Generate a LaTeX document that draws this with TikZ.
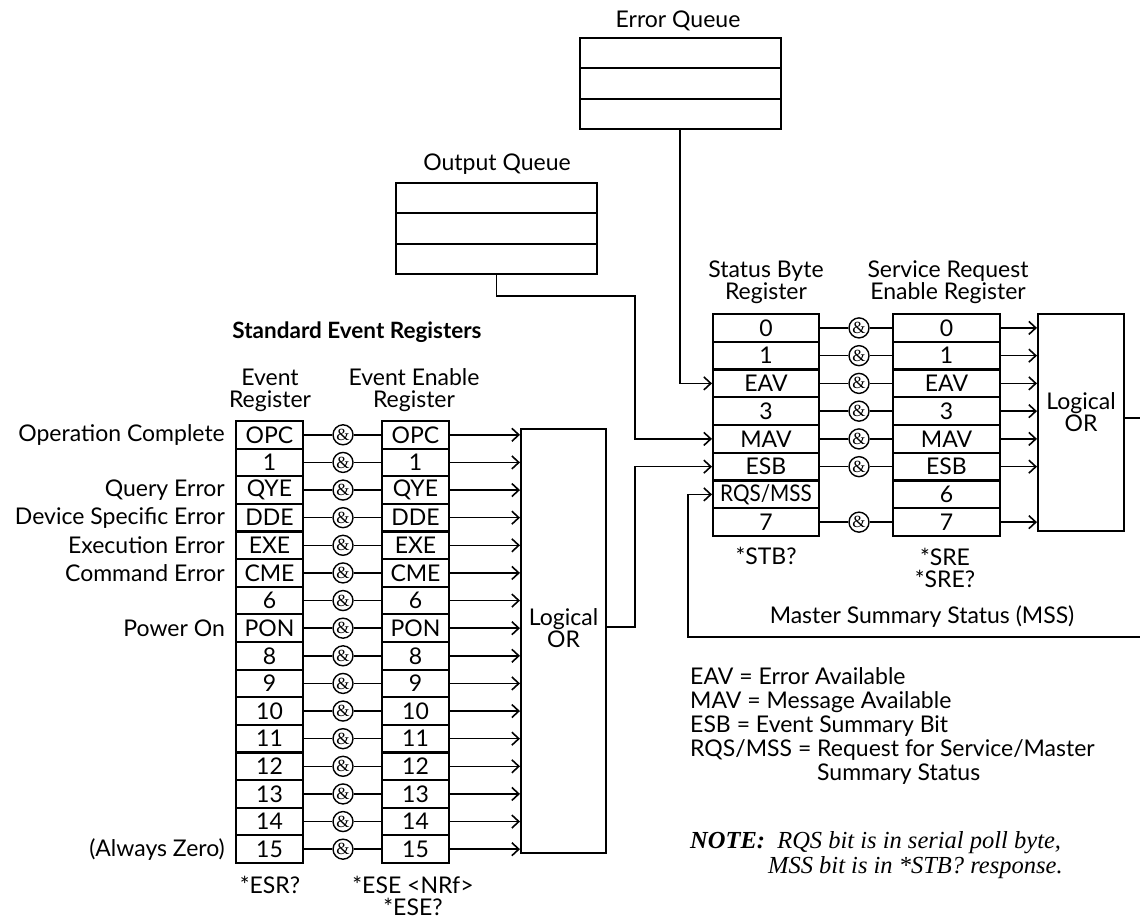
\documentclass[tikz,border=0pt]{standalone}
\usepackage{fontspec}
\usepackage{graphicx}
\setmainfont{Lato}
\newfontfamily\serfont{Liberation Serif}
\usetikzlibrary{arrows.meta}
\newcommand\rqsmsstext{\scalebox{0.9}[1]{RQS/MSS}}
\begin{document}
\begin{tikzpicture}[x=1pt,y=-1pt,
  every node/.style={font=\fontsize{23}{25}\selectfont, inner sep=0pt},
  cell/.style={draw, line width=2pt, minimum height=27.65pt, inner sep=0pt},
  ecell/.style={cell, minimum width=67pt},
  scell/.style={cell, minimum width=106pt},
  qcell/.style={draw, line width=2pt, minimum width=201pt, minimum height=30.33pt, inner sep=0pt},
  amp/.style={draw, circle, line width=1.4pt, minimum size=20pt, inner sep=0pt, font=\serfont\fontsize{17}{17}\selectfont},
  wire/.style={line width=1.6pt},
  arr/.style={wire, -{Straight Barb[length=7pt,width=13pt]}},
  orbox/.style={draw, line width=2pt, inner sep=0pt},
  lbl/.style={align=center, font=\fontsize{23}{22}\selectfont},
]
\useasboundingbox (0,0) rectangle (1140,919);

% ---------- Queues ----------
\node (eql) at (678,21) {Error Queue};
\node[qcell] (eq1) at (680,53.2) {};
\node[qcell] (eq2) at (680,83.5) {};
\node[qcell] (eq3) at (680,113.8) {};

\node (oql) at (497,164) {Output Queue};
\node[qcell] (oq1) at (496.5,198.2) {};
\node[qcell] (oq2) at (496.5,228.5) {};
\node[qcell] (oq3) at (496.5,258.8) {};

% ---------- Standard event registers ----------
\node[font=\bfseries\fontsize{22.5}{24}\selectfont] (ser) at (357,332) {Standard Event Registers};
\node[lbl] (erl) at (270,390) {Event\\Register};
\node[lbl] (eel) at (414,390) {Event Enable\\Register};

\node[orbox, minimum width=85pt, minimum height=424pt] (lor) at (563.5,641) {};
\node[lbl, font=\fontsize{23}{19}\selectfont] (lort) at (563.5,628) {Logical\\OR};

\foreach \i/\t in {0/OPC,1/1,2/QYE,3/DDE,4/EXE,5/CME,6/6,7/PON,8/8,9/9,10/10,11/11,12/12,13/13,14/14,15/15}{
  \pgfmathsetmacro\yy{434.8+27.625*\i}
  \node[ecell] (er\i) at (269.5,\yy) {\t};
  \node[ecell] (ee\i) at (415.5,\yy) {\t};
  \node[amp] (ea\i) at (343,\yy) {\&};
  \draw[wire] (er\i) -- (ea\i) -- (ee\i);
  \draw[arr] (ee\i.east) -- (ee\i.east -| lor.west);
}
\foreach \i/\t in {0/Operation Complete,2/Query Error,3/Device Specific Error,4/Execution Error,5/Command Error,7/Power On,15/(Always Zero)}{
  \node[anchor=east] (lab\i) at ([xshift=-10pt]er\i.west) {\t};
}
\node (esr) at (270,885) {*ESR?};
\node[lbl] (ese) at (413,896) {*ESE <NRf>\\*ESE?};

% ---------- Status byte / SRE ----------
\node[lbl] (sbl) at (766,282) {Status Byte\\Register};
\node[lbl] (srl) at (948,282) {Service Request\\Enable Register};

\node[orbox, minimum width=86pt, minimum height=217pt] (ror) at (1081,422.5) {};
\node[lbl, font=\fontsize{23}{19}\selectfont] (rort) at (1081,412) {Logical\\OR};

\foreach \i/\t in {0/0,1/1,2/EAV,3/3,4/MAV,5/ESB,6/\rqsmsstext,7/7}{
  \pgfmathsetmacro\yy{327.9+27.75*\i}
  \node[scell] (sb\i) at (766,\yy) {\t};
}
\foreach \i/\t in {0/0,1/1,2/EAV,3/3,4/MAV,5/ESB,6/6,7/7}{
  \pgfmathsetmacro\yy{327.9+27.75*\i}
  \node[scell, minimum width=107pt] (sr\i) at (946.5,\yy) {\t};
}
\foreach \i in {0,1,2,3,4,5,7}{
  \node[amp] (sa\i) at (859,{327.9+27.75*\i}) {\&};
  \draw[wire] (sb\i) -- (sa\i) -- (sr\i);
  \draw[arr] (sr\i.east) -- (sr\i.east -| ror.west);
}
\node (stb) at (766,556) {*STB?};
\node[lbl] (sre) at (945,568) {*SRE\\*SRE?};
\node (mss) at (922,617) {Master Summary Status (MSS)};

% ---------- Connections into status byte ----------
\draw[arr] (eq3.south) |- (sb2.west);
\coordinate (oqc) at (635,296);
\draw[arr] (oq3.south) |- (oqc) |- (sb4.west);
\coordinate (lorc) at (635,627);
\draw[arr] (lor.east |- lorc) -- (lorc) |- (sb5.west);

\coordinate (edgeA) at (1140,418);
\draw[wire] (ror.east |- edgeA) -- (edgeA);
\coordinate (edgeB) at (1140,637);
\coordinate (mssc) at (688,637);
\draw[arr] (edgeB) -- (mssc) |- (sb6.west);

% ---------- Legend and note ----------
\node[anchor=north west, align=left, font=\fontsize{23}{24}\selectfont] (legend) at (690,667)
  {EAV = Error Available\\
   MAV = Message Available\\
   ESB = Event Summary Bit\\
   RQS/MSS = Request for Service/Master\\
   \phantom{RQS/MSS = }Summary Status};
\node[anchor=north west, align=left, font=\serfont\itshape\fontsize{24.5}{25}\selectfont] (note) at (690,831)
  {\textbf{NOTE:}\ \ RQS bit is in serial poll byte,\\
   \hspace*{78pt}MSS bit is in *STB? response.};
\end{tikzpicture}
\end{document}
